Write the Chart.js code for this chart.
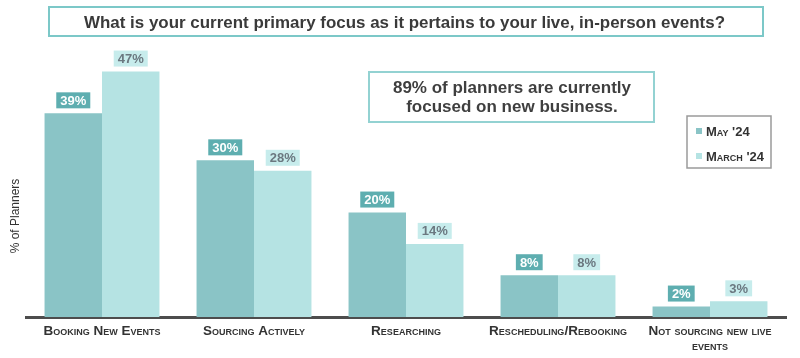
<!DOCTYPE html>
<html>
<head>
<meta charset="utf-8">
<script src="https://cdn.jsdelivr.net/npm/chart.js@4.4.0/dist/chart.umd.min.js"></script>
<style>
  html, body { margin: 0; padding: 0; background: #ffffff; }
  #wrap { width: 800px; height: 358px; }
</style>
</head>
<body>
<div id="wrap"><canvas id="focusChart" width="800" height="358"></canvas></div>
<script>
// values
const categories = [
    "Booking New Events",
    "Sourcing Actively",
    "Researching",
    "Rescheduling/Rebooking",
    ["Not sourcing new live", "events"]
];
const seriesLabels = ["May '24", "March '24"];
const may24 = [39, 30, 20, 8, 2];
const march24 = [47, 28, 14, 8, 3];

const titleText = "What is your current primary focus as it pertains to your live, in-person events?";
const calloutLines = ["89% of planners are currently", "focused on new business."];
const yTitle = "% of Planners";

const mayColor = "#8ac4c6";
const marchColor = "#b5e3e3";
const mayTag = "#5eaeb0";
const marchTag = "#c7ecec";
const sans = "'Liberation Sans', Arial, sans-serif";

// title box, y title, callout box and legend box
const boxesPlugin = {
    id: "boxes",
    beforeDraw(chart) {
        let ctx = chart.ctx;
        ctx.save();
        ctx.strokeStyle = "#7cc8c8";
        ctx.lineWidth = 2;
        ctx.strokeRect(49, 7, 714, 29);

        // title squeezed a bit, like a narrow face
        ctx.fillStyle = "#3a3a3a";
        ctx.font = "bold 17px " + sans;
        ctx.textBaseline = "alphabetic";
        ctx.textAlign = "left";
        let tw = ctx.measureText(titleText).width;
        let sx = 641 / tw;
        ctx.translate(84, 28);
        ctx.scale(sx, 1);
        ctx.fillText(titleText, 0, 0);
        ctx.restore();

        ctx.save();
        ctx.fillStyle = "#333333";
        ctx.font = "12px " + sans;
        ctx.textAlign = "center";
        ctx.textBaseline = "middle";
        ctx.translate(16, 216);
        ctx.rotate(-Math.PI / 2);
        ctx.fillText(yTitle, 0, 0);
        ctx.restore();
    },
    afterDraw(chart) {
        let ctx = chart.ctx;
        ctx.save();
        // callout
        ctx.strokeStyle = "#93d2d2";
        ctx.lineWidth = 2;
        ctx.fillStyle = "#ffffff";
        ctx.fillRect(369, 72, 285, 50);
        ctx.strokeRect(369, 72, 285, 50);
        ctx.fillStyle = "#3f3f3f";
        ctx.font = "bold 17px " + sans;
        ctx.textAlign = "center";
        ctx.textBaseline = "middle";
        ctx.fillText(calloutLines[0], 512, 88);
        ctx.fillText(calloutLines[1], 512, 107);

        // legend
        ctx.strokeStyle = "#9a9a9a";
        ctx.lineWidth = 1.5;
        ctx.strokeRect(687, 116, 84, 52);
        let colors = [mayColor, marchColor];
        let rows = [131, 156];
        ctx.textAlign = "left";
        ctx.font = "small-caps bold 13px " + sans;
        chart.data.datasets.forEach((ds, i) => {
            ctx.fillStyle = colors[i];
            ctx.fillRect(696, rows[i] - 3, 6, 6);
            ctx.fillStyle = "#333333";
            ctx.fillText(ds.label, 706, rows[i] + 1);
        });
        ctx.restore();
    }
};

// value tags above each bar
const tagsPlugin = {
    id: "tags",
    afterDatasetsDraw(chart) {
        let ctx = chart.ctx;
        ctx.save();
        ctx.font = "bold 13px " + sans;
        ctx.textAlign = "center";
        ctx.textBaseline = "middle";
        chart.data.datasets.forEach((ds, i) => {
            let meta = chart.getDatasetMeta(i);
            meta.data.forEach((bar, j) => {
                let text = ds.data[j] + "%";
                let w = ctx.measureText(text).width + 8;
                let h = 16;
                let top = bar.y - 5 - h;
                ctx.fillStyle = i === 0 ? mayTag : marchTag;
                ctx.fillRect(bar.x - w / 2, top, w, h);
                ctx.fillStyle = i === 0 ? "#ffffff" : "#6b7880";
                ctx.fillText(text, bar.x, top + h / 2 + 1);
            });
        });
        ctx.restore();
    }
};

let ctx = document.getElementById("focusChart").getContext("2d");

let focusChart = new Chart(ctx, {
    type: "bar",
    data: {
        labels: categories,
        datasets: [{
            label: seriesLabels[0],
            data: may24,
            backgroundColor: mayColor,
            borderWidth: 0
        }, {
            label: seriesLabels[1],
            data: march24,
            backgroundColor: marchColor,
            borderWidth: 0
        }]
    },
    options: {
        responsive: false,
        animation: false,
        layout: {
            padding: {left: 26, right: 14, top: 35, bottom: 0}
        },
        datasets: {
            bar: {categoryPercentage: 0.756, barPercentage: 1.0}
        },
        plugins: {
            legend: {display: false},
            tooltip: {enabled: false},
            title: {display: false}
        },
        scales: {
            x: {
                grid: {display: false, drawTicks: false},
                border: {display: true, color: "#4d4d4d", width: 3},
                afterFit: (scale) => { scale.height = 41; },
                ticks: {
                    color: "#333333",
                    padding: 7,
                    maxRotation: 0,
                    autoSkip: false,
                    font: {family: sans, size: 13.5, weight: "small-caps bold", lineHeight: 1.1}
                }
            },
            y: {
                display: false,
                min: 0,
                max: 54
            }
        }
    },
    plugins: [boxesPlugin, tagsPlugin]
});
</script>
</body>
</html>
